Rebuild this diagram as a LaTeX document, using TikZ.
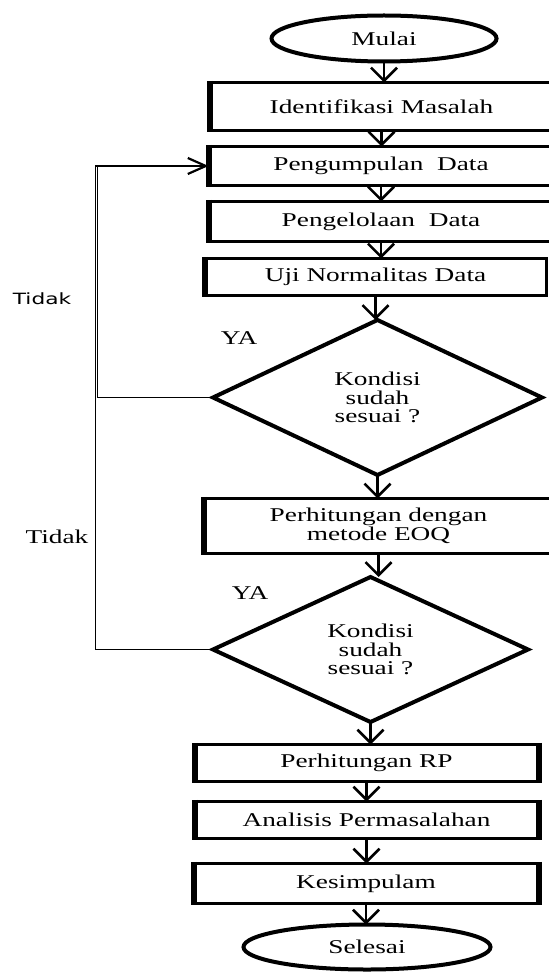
\documentclass[tikz,border=0pt]{standalone}
\usepackage{fontspec}
\setmainfont[FakeStretch=1.4]{Liberation Serif}
\newfontfamily\tidaksans[FakeStretch=1.4]{DejaVu Sans}
\usetikzlibrary{arrows.meta,shapes.geometric}
\begin{document}
\begin{tikzpicture}[x=1pt,y=-1pt,
  txt/.style={font=\fontsize{19.5pt}{18.5pt}\selectfont},
  box/.style={txt, draw, line width=3.3pt, inner sep=0pt, outer sep=0pt, align=center},
  term/.style={txt, draw, ellipse, line width=4pt, inner sep=0pt, outer sep=0pt},
  decide/.style={txt, draw, diamond, aspect=2.1, line width=4pt, inner sep=0pt, outer sep=0pt, align=center},
  thickedge/.style={line width=6pt, shorten <=-1.6pt, shorten >=-1.6pt},
  arr/.style={line width=2.6pt, -{Straight Barb[length=13pt,width=26pt]}},
  loopline/.style={line width=1.9pt},
  lbl/.style={txt, inner sep=0pt}]
\useasboundingbox (0,0) rectangle (548,973);

% terminals
\node[term, minimum width=225pt, minimum height=46pt] (mulai) at (384,38.5) {Mulai};
\node[term, minimum width=247pt, minimum height=45pt] (selesai) at (367,947) {Selesai};

% process boxes
\node[box, minimum width=344pt, minimum height=48pt] (ident) at (381.5,106.5) {Identifikasi Masalah};
\node[box, minimum width=345pt, minimum height=39pt] (kumpul) at (381,166) {Pengumpulan\ \ Data};
\node[box, minimum width=345pt, minimum height=40pt] (kelola) at (381,221.5) {Pengelolaan\ \ Data};
\node[box, minimum width=342pt, minimum height=37pt] (uji) at (375.5,277) {Uji Normalitas Data};
\node[decide, minimum width=329pt, minimum height=155pt] (d1) at (377.5,397.5) {Kondisi\\sudah\\sesuai ?};
\node[box, minimum width=350pt, minimum height=55pt] (eoq) at (378.5,526) {Perhitungan dengan\\metode EOQ};
\node[decide, minimum width=315pt, minimum height=145pt] (d2) at (370.5,649.5) {Kondisi\\sudah\\sesuai ?};
\node[box, minimum width=344pt, minimum height=37pt] (rp) at (366.5,763) {Perhitungan RP};
\node[box, minimum width=344pt, minimum height=37pt] (anal) at (366.5,820) {Analisis Permasalahan};
\node[box, minimum width=345pt, minimum height=40pt] (kes) at (366,883.5) {Kesimpulam};

% heavier edges
\foreach \n in {ident,kumpul,kelola,uji,eoq,rp,anal,kes}
  \draw[thickedge] (\n.north west) -- (\n.south west);
\foreach \n in {rp,anal,kes}
  \draw[thickedge] (\n.north east) -- (\n.south east);

% labels
\node[lbl] (ya1) at (239,338) {YA};
\node[lbl] (ya2) at (250,593) {YA};
\node[inner sep=0pt, font=\tidaksans\fontsize{15.5pt}{18pt}\selectfont] (tidak1) at (42,299) {Tidak};
\node[lbl] (tidak2) at (57,537) {Tidak};

% main flow
\draw[arr] (mulai.south) -- (mulai.south |- ident.north);
\draw[arr] (ident.south) -- (ident.south |- kumpul.north);
\draw[arr] (kumpul.south) -- (kumpul.south |- kelola.north);
\draw[arr] (kelola.south) -- (kelola.south |- uji.north);
\draw[arr] (uji.south) -- (uji.south |- d1.north);
\draw[arr] (d1.south) -- (d1.south |- eoq.north);
\draw[arr] (eoq.south) -- (eoq.south |- d2.north);
\draw[arr] (d2.south) -- (d2.south |- rp.north);
\draw[arr] (rp.south) -- (rp.south |- anal.north);
\draw[arr] (anal.south) -- (anal.south |- kes.north);
\draw[arr] (kes.south) -- (kes.south |- selesai.north);

% loops back
\coordinate (c1) at (97.5,0);
\coordinate (c2) at (95.5,0);
\draw[loopline, -{Straight Barb[length=18pt,width=16pt,line width=2.2pt]}]
  (d1.west) -- (d1.west -| c1) -- (c1 |- kumpul.west) -- (kumpul.west);
\draw[loopline] (d2.west) -- (d2.west -| c2) -- (c2 |- kumpul.west) -- (c1 |- kumpul.west);
\end{tikzpicture}
\end{document}
